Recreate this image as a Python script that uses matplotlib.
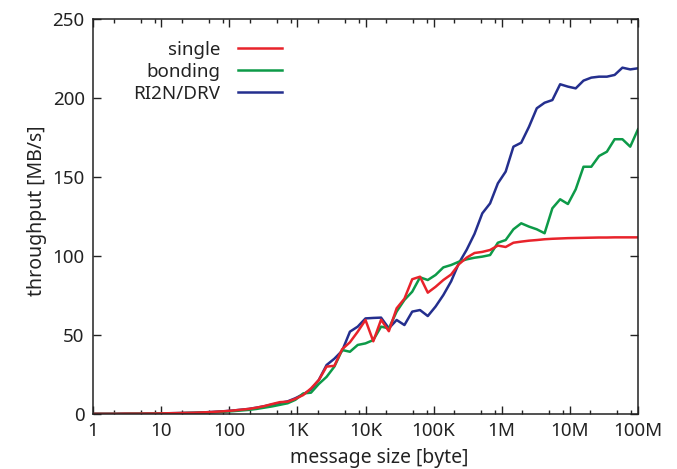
import matplotlib
matplotlib.use("Agg")
import matplotlib.pyplot as plt
from matplotlib.ticker import FixedLocator, FixedFormatter, NullFormatter

plt.rcParams['font.family'] = ['Noto Sans', 'DejaVu Sans']

# message sizes [byte]
sizes = [1, 1.3, 1.69, 2.2, 2.87, 3.73, 4.85, 6.31, 8.21, 10.7, 13.9, 18.1, 23.5, 30.6,
         39.8, 51.8, 67.4, 87.7, 114, 148, 193, 251, 327, 425, 553, 720, 936, 1218,
         1585, 2063, 2683, 3493, 4541, 5907, 7688, 10000, 13010, 16930, 22020, 28650,
         37280, 48510, 63100, 82100, 106800, 138900, 180800, 235100, 306000, 398100,
         518000, 674000, 877000, 1141000, 1484000, 1931000, 2512000, 3268000, 4254000,
         5534000, 7197000, 9363000, 12180000, 15850000, 20630000, 26830000, 34930000,
         45410000, 59070000, 76880000, 100000000]

single = [0.1, 0.1, 0.1, 0.1, 0.2, 0.2, 0.2, 0.3, 0.3, 0.4,
          0.5, 0.6, 0.7, 0.8, 1.0, 1.2, 1.5, 1.8, 2.2, 2.7,
          3.2, 4.0, 5.0, 6.3, 7.5, 7.8, 9.6, 12.0, 16.2, 21.5,
          30.0, 30.5, 41.0, 45.4, 52.1, 59.5, 46.0, 59.7, 52.4, 66.9,
          73.0, 85.3, 86.9, 76.8, 80.5, 84.8, 88.3, 94.8, 99.0, 101.9,
          102.6, 103.8, 106.6, 105.7, 108.4, 109.1, 109.7, 110.1, 110.6, 110.9,
          111.1, 111.3, 111.4, 111.5, 111.6, 111.7, 111.7, 111.8, 111.8, 111.8, 111.8]

bonding = [0.1, 0.1, 0.1, 0.1, 0.1, 0.2, 0.2, 0.2, 0.3, 0.3,
           0.4, 0.5, 0.6, 0.7, 0.8, 1.0, 1.2, 1.5, 1.8, 2.2,
           2.6, 3.2, 4.0, 4.8, 5.8, 6.8, 9.0, 13.0, 13.5, 19.0,
           23.5, 30.0, 40.5, 39.4, 43.7, 44.7, 46.8, 55.3, 54.2, 64.8,
           72.2, 77.4, 86.5, 84.8, 88.0, 92.8, 94.3, 96.4, 97.9, 98.9,
           99.6, 100.6, 108.4, 110.1, 116.9, 120.7, 118.6, 116.9, 114.4, 130.2,
           135.9, 132.9, 142.2, 156.5, 156.5, 163.3, 166.0, 173.9, 173.9, 169.2, 180.2]

ri2n = [0.1, 0.1, 0.1, 0.1, 0.2, 0.2, 0.2, 0.3, 0.3, 0.4,
        0.5, 0.6, 0.7, 0.8, 1.0, 1.2, 1.5, 1.8, 2.2, 2.7,
        3.2, 4.0, 4.9, 6.0, 7.0, 8.0, 10.0, 12.5, 15.5, 21.5,
        31.0, 35.0, 40.0, 52.1, 55.3, 60.5, 60.8, 61.0, 54.2, 59.5,
        56.3, 64.8, 65.8, 62.0, 68.0, 75.3, 84.0, 95.5, 104.0, 114.0,
        127.0, 133.3, 146.0, 153.4, 169.2, 171.7, 181.8, 193.5, 197.0, 198.7,
        208.7, 207.2, 206.1, 211.0, 212.9, 213.5, 213.5, 214.6, 219.2, 218.1, 218.8]

x_ticks = [1, 10, 100, 1e3, 1e4, 1e5, 1e6, 1e7, 1e8]
x_ticklabels = ['1', '10', '100', '1K', '10K', '100K', '1M', '10M', '100M']
y_ticks = [0, 50, 100, 150, 200, 250]

fig = plt.figure(figsize=(6.77, 4.69), dpi=100)
ax = fig.add_axes([93 / 677, 1 - 414 / 469, (638 - 93) / 677, (414 - 19) / 469])

c_red, c_green, c_blue = '#e8232b', '#0d9a48', '#242f8e'
l3, = ax.plot(sizes, ri2n, color=c_blue, lw=1.8, label='RI2N/DRV')
l2, = ax.plot(sizes, bonding, color=c_green, lw=1.8, label='bonding')
l1, = ax.plot(sizes, single, color=c_red, lw=1.8, label='single')

ax.set_xscale('log')
ax.set_xlim(1, 1e8)
ax.set_ylim(0, 250)
ax.xaxis.set_major_locator(FixedLocator(x_ticks))
ax.xaxis.set_major_formatter(FixedFormatter(x_ticklabels))
minor = []
for d in x_ticks[:-1]:
    for m in (2, 5, 8):
        minor.append(d * m)
ax.xaxis.set_minor_locator(FixedLocator(minor))
ax.xaxis.set_minor_formatter(NullFormatter())
ax.set_yticks(y_ticks)

ax.tick_params(which='both', direction='in', top=True, right=True, labelsize=13.5,
               width=1.0, colors='#222222', labelcolor='#222222')
ax.tick_params(which='major', length=6, pad=6)
ax.tick_params(which='minor', length=3)
for s in ax.spines.values():
    s.set_linewidth(1.1)
    s.set_color('#222222')

ax.set_xlabel('message size [byte]', fontsize=14, color='#222222')
ax.set_ylabel('throughput [MB/s]', fontsize=14, color='#222222')
ax.xaxis.set_label_coords(0.526, -0.087)
ax.yaxis.set_label_coords(-0.0845, 0.514)

leg = ax.legend(handles=[l1, l2, l3], loc='upper right', bbox_to_anchor=(0.347, 0.945),
                frameon=False, markerfirst=False, fontsize=13.5, handlelength=2.35,
                handletextpad=0.95, labelspacing=0.21, borderaxespad=0, borderpad=0)
for t in leg.get_texts():
    t.set_color('#222222')

fig.savefig('out.png', dpi=100)
